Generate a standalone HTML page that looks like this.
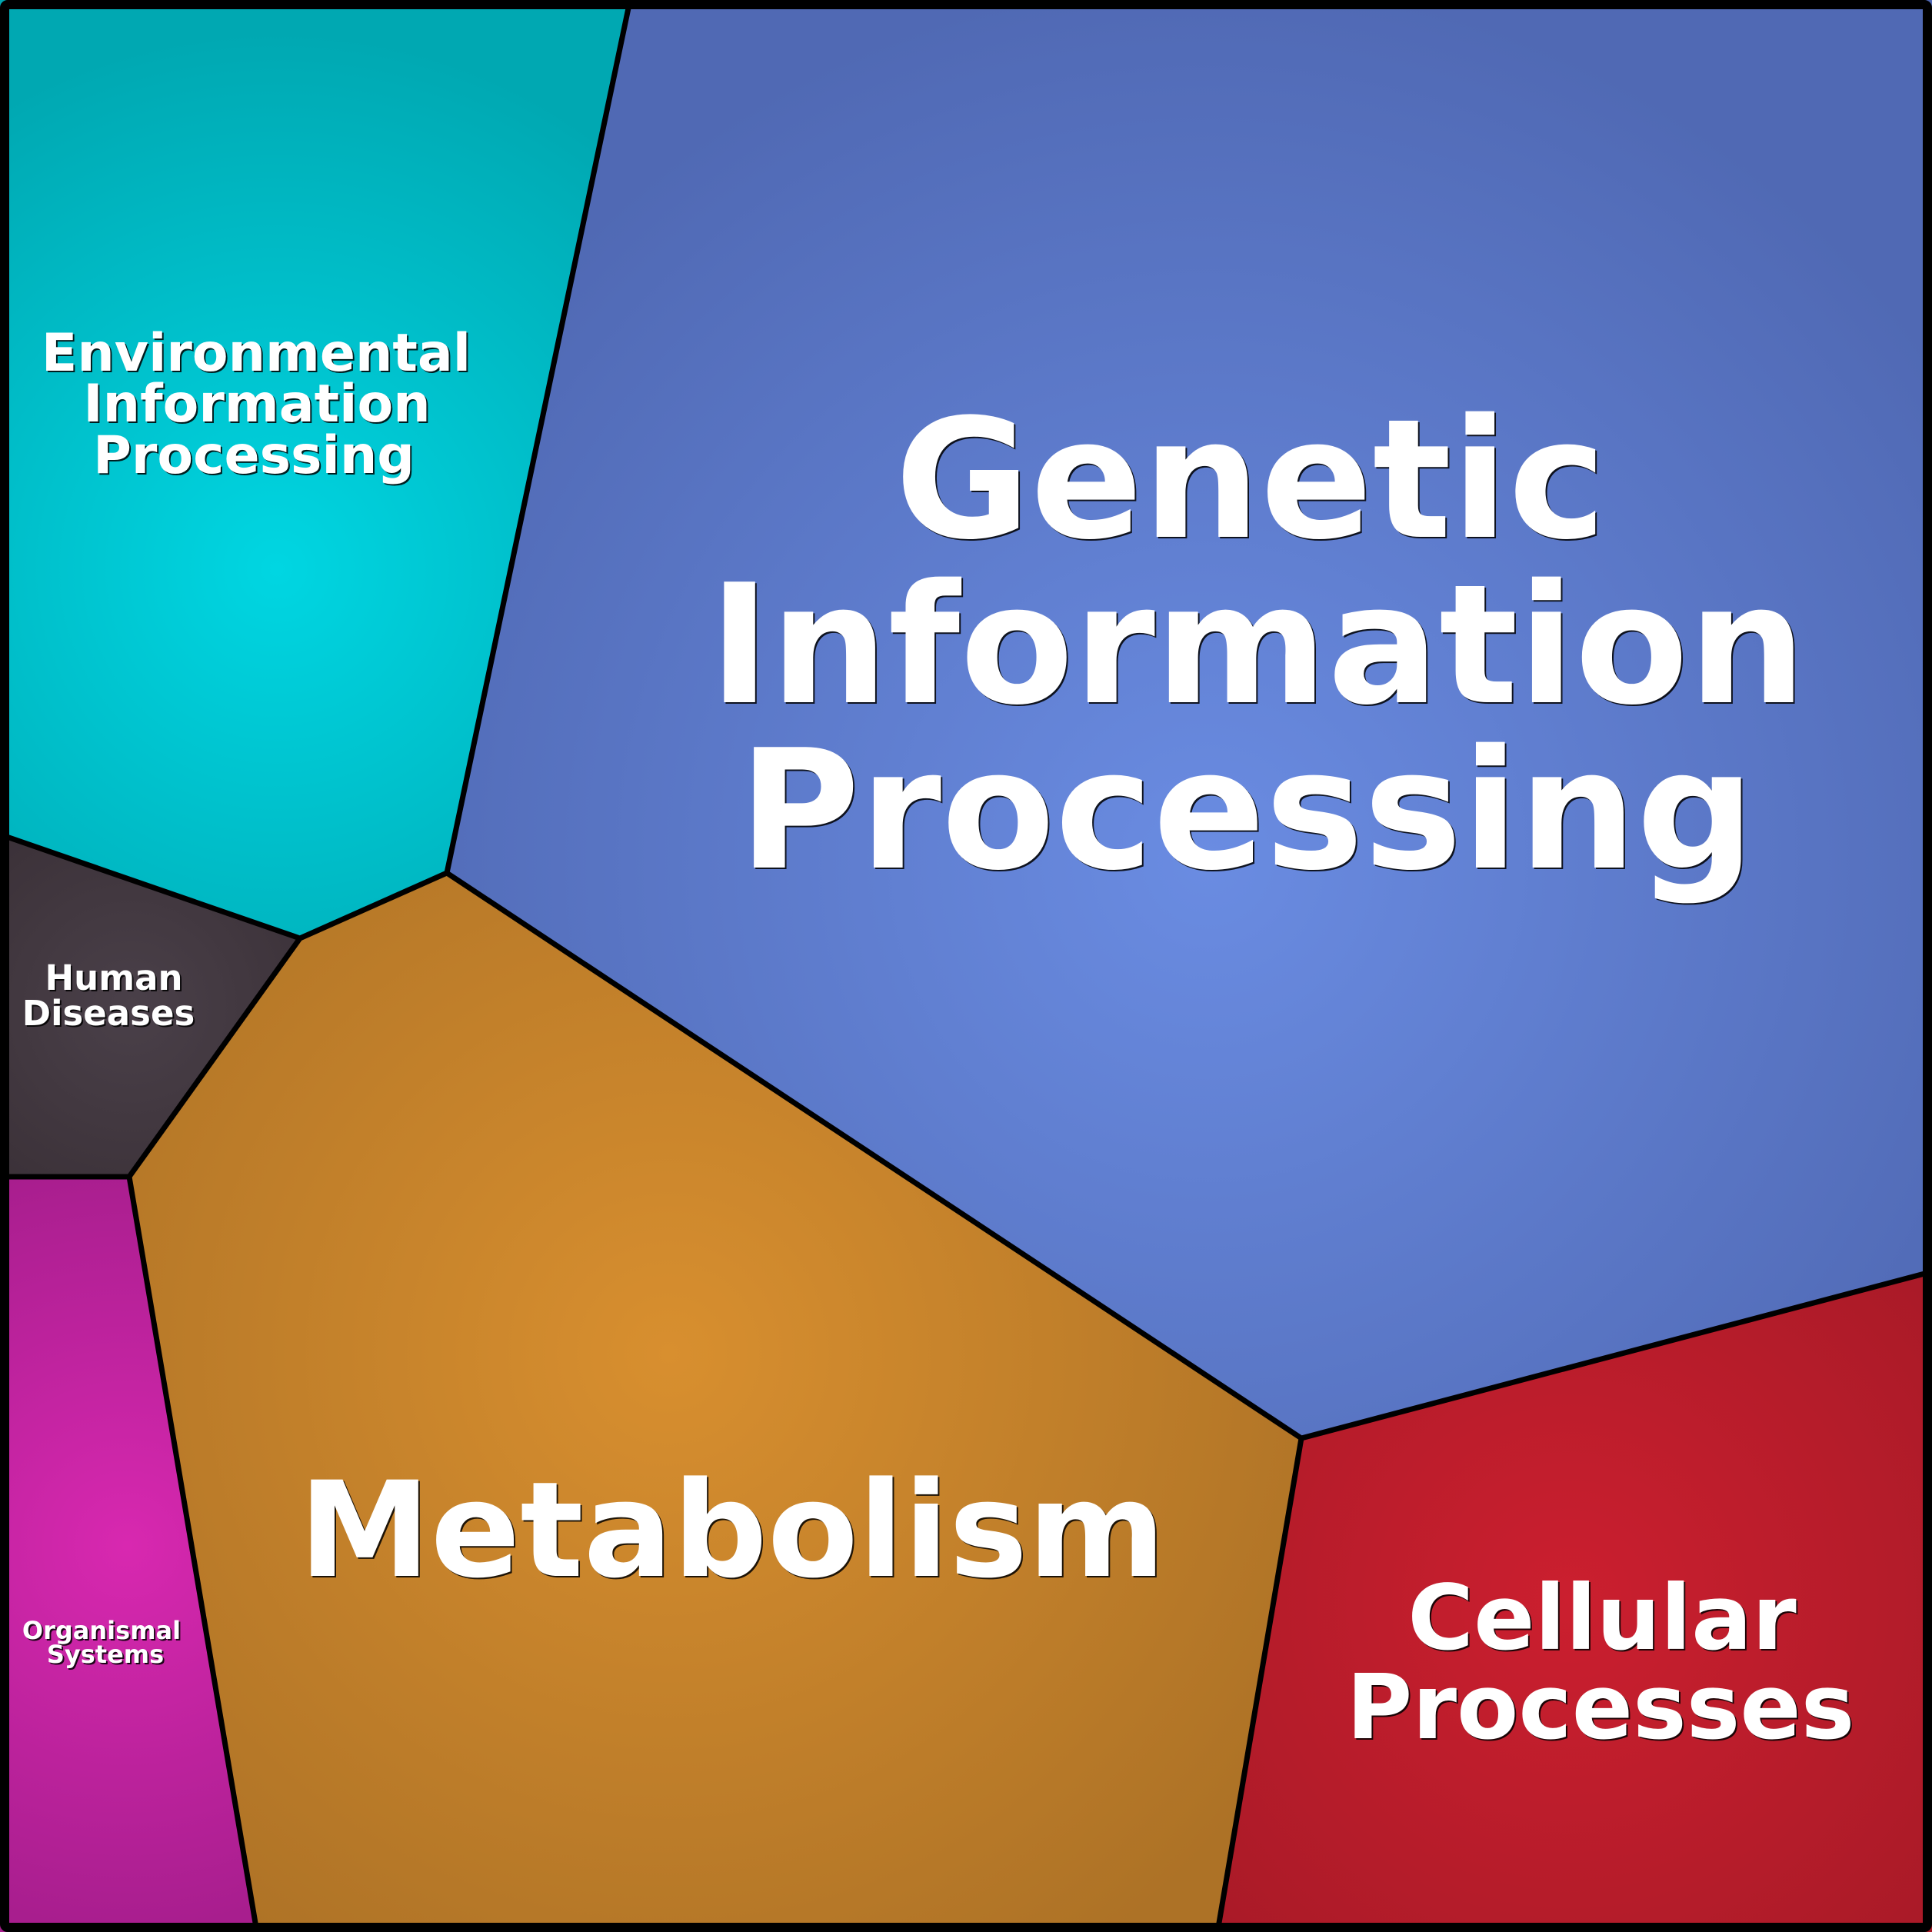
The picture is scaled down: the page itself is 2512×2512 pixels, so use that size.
<!DOCTYPE html>
<html>
<head>
<meta charset="utf-8">
<style>
  html, body { margin: 0; padding: 0; background: #000; }
  svg { display: block; }
  text { font-family: "DejaVu Sans", "Liberation Sans", sans-serif; font-weight: bold; text-anchor: middle; }
  .sh { fill: #000; opacity: 0.85; }
  .fg { fill: #fff; }
</style>
</head>
<body>
<svg width="2512" height="2512" viewBox="0 0 2512 2512" xmlns="http://www.w3.org/2000/svg">
  <defs>
    <radialGradient id="gGen" gradientUnits="userSpaceOnUse" cx="1570" cy="1120" r="1150">
      <stop offset="0" stop-color="#6a8ce2"/>
      <stop offset="1" stop-color="#5069b4"/>
    </radialGradient>
    <radialGradient id="gEnv" gradientUnits="userSpaceOnUse" cx="360" cy="740" r="700">
      <stop offset="0" stop-color="#00d6e2"/>
      <stop offset="1" stop-color="#00a8b2"/>
    </radialGradient>
    <radialGradient id="gHD" gradientUnits="userSpaceOnUse" cx="170" cy="1310" r="280">
      <stop offset="0" stop-color="#4a4049"/>
      <stop offset="1" stop-color="#3b3138"/>
    </radialGradient>
    <radialGradient id="gMet" gradientUnits="userSpaceOnUse" cx="870" cy="1760" r="950">
      <stop offset="0" stop-color="#d88f2f"/>
      <stop offset="1" stop-color="#ad7226"/>
    </radialGradient>
    <radialGradient id="gCell" gradientUnits="userSpaceOnUse" cx="2040" cy="2080" r="650">
      <stop offset="0" stop-color="#cb1f2f"/>
      <stop offset="1" stop-color="#a81a27"/>
    </radialGradient>
    <radialGradient id="gOS" gradientUnits="userSpaceOnUse" cx="165" cy="2010" r="500">
      <stop offset="0" stop-color="#d828b0"/>
      <stop offset="1" stop-color="#a81e8e"/>
    </radialGradient>
  </defs>

  <!-- Regions -->
  <polygon points="0,0 818,0 581,1135 390,1220 0,1087" fill="url(#gEnv)"/>
  <polygon points="818,0 2512,0 2512,1655 1692,1870 581,1135" fill="url(#gGen)"/>
  <polygon points="0,1087 390,1220 168,1530 0,1530" fill="url(#gHD)"/>
  <polygon points="581,1135 1692,1870 1584,2512 333,2512 168,1530 390,1220" fill="url(#gMet)"/>
  <polygon points="1692,1870 2512,1655 2512,2512 1584,2512" fill="url(#gCell)"/>
  <polygon points="0,1530 168,1530 333,2512 0,2512" fill="url(#gOS)"/>

  <!-- Borders -->
  <g stroke="#000" stroke-width="7" fill="none" stroke-linejoin="miter">
    <polyline points="818,6 581,1135 1692,1870 2506,1655"/>
    <polyline points="6,1087 390,1220 581,1135"/>
    <polyline points="390,1220 168,1530 6,1530"/>
    <line x1="168" y1="1530" x2="333" y2="2506"/>
    <line x1="1692" y1="1870" x2="1584" y2="2506"/>
  </g>
  <rect x="6" y="6" width="2500" height="2500" fill="none" stroke="#000" stroke-width="12" rx="4"/>

  <!-- Genetic Information Processing -->
  <g font-size="215">
    <text class="sh" x="1628" y="700">Genetic</text>
    <text class="sh" x="1637" y="915">Information</text>
    <text class="sh" x="1623" y="1130">Processing</text>
    <text class="fg" x="1626" y="698">Genetic</text>
    <text class="fg" x="1635" y="913">Information</text>
    <text class="fg" x="1621" y="1128">Processing</text>
  </g>

  <!-- Metabolism -->
  <g font-size="172">
    <text class="sh" x="954" y="2051">Metabolism</text>
    <text class="fg" x="952" y="2049">Metabolism</text>
  </g>

  <!-- Cellular Processes -->
  <g font-size="117">
    <text class="sh" x="2085" y="2146">Cellular</text>
    <text class="sh" x="2083" y="2262">Processes</text>
    <text class="fg" x="2083" y="2144">Cellular</text>
    <text class="fg" x="2081" y="2260">Processes</text>
  </g>

  <!-- Environmental Information Processing -->
  <g font-size="68">
    <text class="sh" x="335" y="484">Environmental</text>
    <text class="sh" x="336" y="550">Information</text>
    <text class="sh" x="332" y="617">Processing</text>
    <text class="fg" x="333" y="482">Environmental</text>
    <text class="fg" x="334" y="548">Information</text>
    <text class="fg" x="330" y="615">Processing</text>
  </g>

  <!-- Human Diseases -->
  <g font-size="45">
    <text class="sh" x="150" y="1289">Human</text>
    <text class="sh" x="143" y="1335">Diseases</text>
    <text class="fg" x="148" y="1287">Human</text>
    <text class="fg" x="141" y="1333">Diseases</text>
  </g>

  <!-- Organismal Systems -->
  <g font-size="32">
    <text class="sh" x="134" y="2133">Organismal</text>
    <text class="sh" x="139" y="2164">Systems</text>
    <text class="fg" x="132" y="2131">Organismal</text>
    <text class="fg" x="137" y="2162">Systems</text>
  </g>
</svg>
</body>
</html>
